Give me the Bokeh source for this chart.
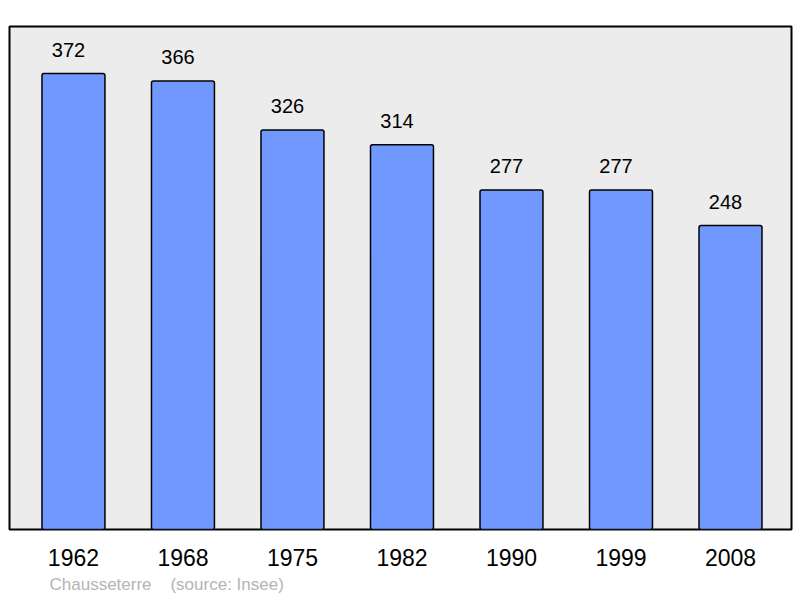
from bokeh.plotting import figure
from bokeh.models import ColumnDataSource, Range1d, FixedTicker, Title
from bokeh.core.properties import value
from bokeh.embed import file_html
from bokeh.resources import INLINE

years = ["1962", "1968", "1975", "1982", "1990", "1999", "2008"]
population = [372, 366, 326, 314, 277, 277, 248]
place = "Chausseterre"
source_note = "(source: Insee)"

idx = list(range(len(years)))
src = ColumnDataSource(dict(x=idx, top=population, label=[str(v) for v in population]))

p = figure(width=800, height=598, output_backend="svg", toolbar_location=None,
           x_range=Range1d(-0.584, 6.557), y_range=Range1d(0, 410.4),
           min_border_left=9, min_border_right=9, min_border_top=26, min_border_bottom=10)

p.background_fill_color = "#ececec"
p.border_fill_color = "white"
p.outline_line_color = "black"
p.outline_line_width = 2
p.grid.visible = False
p.yaxis.visible = False

p.vbar(x="x", top="top", width=0.575, bottom=0, source=src,
       fill_color="#7098ff", line_color="black", line_width=1.5, border_radius=2)
p.text(x="x", y="top", text="label", source=src, text_align="center",
       text_baseline="alphabetic", y_offset=-24, x_offset=-5,
       text_font=value("Liberation Sans"), text_font_size="20px", text_color="black")

xa = p.xaxis[0]
xa.ticker = FixedTicker(ticks=idx)
xa.major_label_overrides = {i: y for i, y in zip(idx, years)}
xa.major_label_text_font = "Liberation Sans"
xa.major_label_text_font_size = "23px"
xa.major_label_text_color = "black"
xa.axis_line_color = None
xa.major_tick_line_color = None
xa.minor_tick_line_color = None
xa.major_label_standoff = 13

nb = "\u00a0"
foot = Title(text=place + nb * 4 + source_note, align="left", offset=40,
             text_font="Liberation Sans", text_font_size="17px",
             text_font_style="normal", text_color="#b4b4b4", standoff=9)
p.add_layout(foot, "below")

open("out.html", "w").write(file_html(p, INLINE))
